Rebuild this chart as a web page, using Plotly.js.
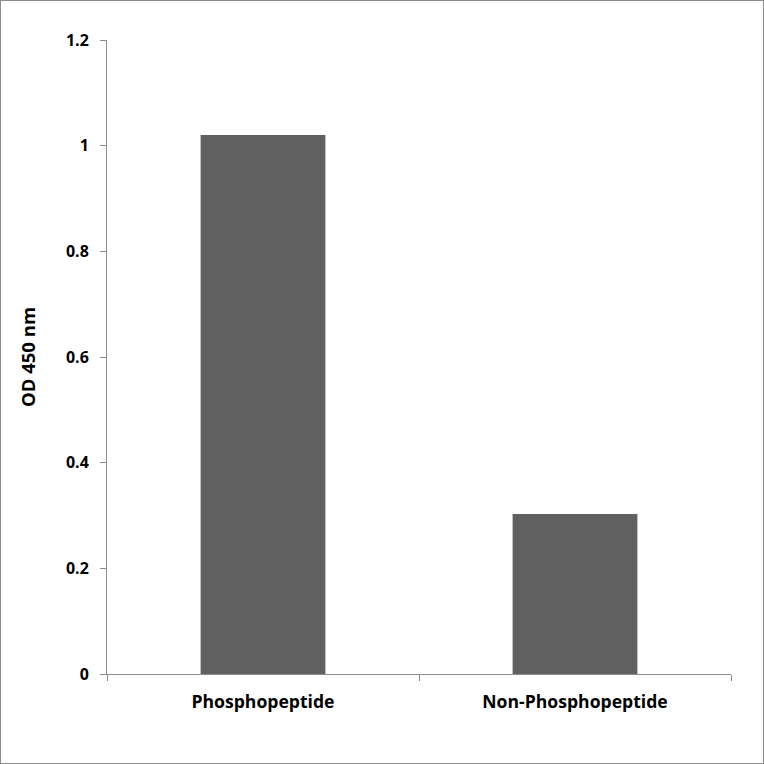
<!DOCTYPE html>
<html><head><meta charset="utf-8">
<script src="https://cdn.plot.ly/plotly-3.0.1.min.js"></script>
<style>html,body{margin:0;padding:0;background:#fff}
#frame{position:absolute;left:0;top:0;width:762px;height:762px;border:1px solid #8c8c8c;pointer-events:none}
</style></head>
<body><div id="chart" style="width:764px;height:764px"></div><div id="frame"></div>
<script>
const categories = ["Phosphopeptide", "Non-Phosphopeptide"];
const odValues = [1.02, 0.303];
const yTicks = [0, 0.2, 0.4, 0.6, 0.8, 1, 1.2];
const yTickLabels = ["0", "0.2", "0.4", "0.6", "0.8", "1", "1.2"];
const yTitle = "OD 450 nm";

const fontFam = "'Open Sans', Lato, sans-serif";
Plotly.newPlot("chart", [{
  type: "bar", x: categories, y: odValues,
  marker: {color: "#606060"}, hoverinfo: "none"
}], {
  width: 764, height: 764,
  margin: {l: 107, r: 33, t: 40, b: 90, pad: 0},
  paper_bgcolor: "#fff", plot_bgcolor: "#fff",
  bargap: 0.6,
  showlegend: false,
  xaxis: {
    showline: true, linecolor: "#8c8c8c", linewidth: 1,
    ticks: "outside", tickson: "boundaries", ticklen: 6, tickcolor: "#8c8c8c",
    tickfont: {family: fontFam, size: 17.6, color: "#000", weight: "bold"},
    ticklabelstandoff: 12,
    showgrid: false, zeroline: false, fixedrange: true
  },
  yaxis: {
    range: [0, 1.2], tickvals: yTicks, ticktext: yTickLabels,
    showline: true, linecolor: "#8c8c8c", linewidth: 1,
    ticks: "outside", ticklen: 6, tickcolor: "#8c8c8c",
    tickfont: {family: fontFam, size: 16, color: "#000", weight: "bold"},
    ticklabelstandoff: 8,
    showgrid: false, zeroline: false,
    title: {text: yTitle, font: {family: fontFam, size: 18.5, color: "#000", weight: "bold"}, standoff: 25}
  },
  font: {family: fontFam}
}, {staticPlot: true});
</script></body></html>
